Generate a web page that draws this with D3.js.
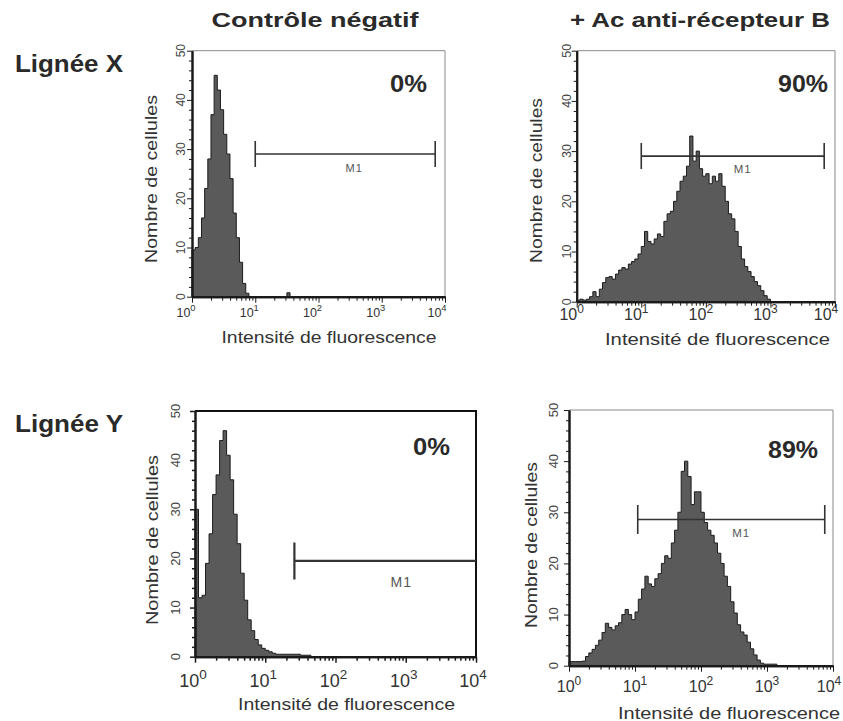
<!DOCTYPE html>
<html><head><meta charset="utf-8">
<script src="https://cdn.jsdelivr.net/npm/d3@7"></script>
<style>body{margin:0;background:#fff}svg{display:block}text{font-family:"Liberation Sans",Arial,Helvetica,sans-serif}</style>
</head><body><svg id="c" width="843" height="721"></svg>
<script>
// ---------- data ----------
const columnTitles = ["Contrôle négatif", "+ Ac anti-récepteur B"];
const rowLabels = ["Lignée X", "Lignée Y"];
const xAxisTitle = "Intensité de fluorescence";
const yAxisTitle = "Nombre de cellules";
const xDomain = [1, 10000];
const yDomain = [0, 50];
const xTickExponents = [0, 1, 2, 3, 4];
const yTickValues = [0, 10, 20, 30, 40, 50];
const binsPerDecade = 20;
const percentLabels = ["0%", "90%", "0%", "89%"];
const markerLabel = "M1";
// marker: [start intensity, end intensity, height in cells]
const markerXControl = [10, 7000, 29];
const markerXAnti = [10, 6800, 29];
const markerYControl = [26, 10000, 19.5];
const markerYAnti = [11, 7500, 28.6];
// cell counts per channel (20 channels per decade, 10^0 .. 10^4)
const countsXControl = [9.5,10,12,16,22,28,37,45,42,38, 33,29,24,17,12,7,2.7,0.7,0,0,
  0,0,0,0,0,0,0,0,0,0, 0.8,0,0,0,0,0,0,0,0,0,
  0,0,0,0,0,0,0,0,0,0, 0,0,0,0,0,0,0,0,0,0,
  0,0,0,0,0,0,0,0,0,0, 0,0,0,0,0,0,0,0,0,0];
const countsXAnti = [0.3,0.5,0.3,0.5,1,2,1,2.5,3.8,4.8, 5,4.5,5.5,6.3,6.8,6.5,7.5,8,8.5,9.5,
  11,14,12,11.5,12.5,13.5,13,16,17.5,18, 20,22,24,25,27,33,28,30,26.5,25,
  25.5,23.5,25,24,25.5,23,20,17.5,16.5,14, 11,8.5,7,6,5,4,3.2,2.2,1.2,0.5,
  0,0,0,0,0,0,0,0,0,0, 0,0,0,0,0,0,0,0,0,0];
const countsYControl = [30,12,12.5,19,25,33,37,44,46,41, 36,29,23,17,11.5,7.5,5.3,3.5,2.4,1.7,
  1.3,1,0.7,0.5,0.5,0.5,0.5,0.5,0.5,0.5, 0.3,0.3,0.3,0,0,0,0,0,0,0,
  0,0,0,0,0,0,0,0,0,0, 0,0,0,0,0,0,0,0,0,0,
  0,0,0,0,0,0,0,0,0,0, 0,0,0,0,0,0,0,0,0,0];
const countsYAnti = [0.8,0.8,0.8,0.8,0.9,1.8,2.5,3.2,4,5, 6.5,8.3,7.5,7,7.8,8.4,10,11,10,9,
  10.5,13,15,17.5,16,15.5,17,18,20,21.5, 21,24,26.5,30,38,40,37,31.5,34,34,
  30,28,26.5,25.5,24,22,20,17.5,15.5,12.5, 10.3,8,6.6,6,4.6,3.3,2.1,1.1,0.5,0.3,
  0.3,0.3,0.3,0,0,0,0,0,0,0, 0,0,0,0,0,0,0,0,0,0];

// ---------- layout ----------
const panels = [
  {counts: countsXControl, pct: percentLabels[0], marker: markerXControl,
   x0:192, x1:445, yb:296.7, yt:50.7, frameC:"#8a8a8a", frameW:1, tickW:1,
   ylab:{x:185, fs:12}, xlab:{y:316.7, fs:12.5, off:-6, lastOff:-8},
   xtitle:{cx:329, y:343, len:215, fs:16}, ytitle:{x:157, cy:179, len:168, fs:16},
   pctPos:{x:427, y:92, len:37}, m1:{cap:13, lw:1.6, dx:9, dy:18.3, fs:11, capR:true}},
  {counts: countsXAnti, pct: percentLabels[1], marker: markerXAnti,
   x0:576.7, x1:835, yb:301.7, yt:50.7, frameC:"#8a8a8a", frameW:1, tickW:1,
   ylab:{x:571, fs:12.5}, xlab:{y:320, fs:16, off:-5, lastOff:-9},
   xtitle:{cx:717.5, y:345, len:225, fs:16.5}, ytitle:{x:542, cy:180.5, len:165, fs:16},
   pctPos:{x:828, y:91.7, len:50}, m1:{cap:13, lw:1.6, dx:10, dy:17.3, fs:11.5, capR:true}},
  {counts: countsYControl, pct: percentLabels[2], marker: markerYControl,
   x0:195, x1:476, yb:656.7, yt:411, frameC:"#111", frameW:2, tickW:1.5,
   ylab:{x:180, fs:13}, xlab:{y:686.7, fs:18, off:-2, lastOff:-3},
   xtitle:{cx:346.5, y:710, len:217, fs:16}, ytitle:{x:158, cy:540, len:170, fs:16.5},
   pctPos:{x:450, y:455, len:37}, m1:{cap:18.5, lw:2.2, dx:16, dy:26, fs:14, capR:false}},
  {counts: countsYAnti, pct: percentLabels[3], marker: markerYAnti,
   x0:569, x1:833, yb:665.7, yt:410, frameC:"#8a8a8a", frameW:1, tickW:1,
   ylab:{x:558, fs:13}, xlab:{y:691.7, fs:16, off:0, lastOff:-4},
   xtitle:{cx:729, y:719, len:222, fs:16.5}, ytitle:{x:537, cy:545, len:166, fs:16},
   pctPos:{x:818, y:458, len:50}, m1:{cap:14.5, lw:1.6, dx:10, dy:17.7, fs:11.5, capR:true}}
];

const svg = d3.select("#c");
const ink = "#2a2a2a";

// column titles & row labels
const colPos = [{cx:315, len:207}, {cx:700, len:260}];
columnTitles.forEach((t, i) => {
  svg.append("text").attr("x", colPos[i].cx).attr("y", 27).attr("text-anchor", "middle")
    .attr("font-size", 20).attr("font-weight", "bold").attr("fill", ink)
    .attr("textLength", colPos[i].len).attr("lengthAdjust", "spacingAndGlyphs").text(t);
});
const rowPos = [72, 432];
rowLabels.forEach((t, i) => {
  svg.append("text").attr("x", 15).attr("y", rowPos[i])
    .attr("font-size", 23).attr("font-weight", "bold").attr("fill", ink)
    .attr("textLength", 108).attr("lengthAdjust", "spacingAndGlyphs").text(t);
});

const minorX = [];
for (let k = 0; k < 4; k++) for (let d = 2; d <= 9; d++) minorX.push(d * Math.pow(10, k));
const majorX = xTickExponents.map(e => Math.pow(10, e));
const minorY = d3.range(0, 51, 2).filter(v => v % 10 !== 0);

panels.forEach(p => {
  const x = d3.scaleLog().domain(xDomain).range([p.x0, p.x1]);
  const y = d3.scaleLinear().domain(yDomain).range([p.yb, p.yt]);
  const g = svg.append("g");

  // frame (top & right)
  g.append("path").attr("d", `M${p.x0},${p.yt}H${p.x1}V${p.yb}`)
    .attr("fill", "none").attr("stroke", p.frameC).attr("stroke-width", p.frameW);

  // histogram
  const n = p.counts.length;
  const pts = p.counts.map((c, i) => ({v: Math.pow(10, i / binsPerDecade), c}));
  pts.push({v: Math.pow(10, n / binsPerDecade), c: p.counts[n - 1]});
  const area = d3.area().curve(d3.curveStepAfter)
    .x(d => x(d.v)).y0(y(0)).y1(d => y(d.c));
  g.append("path").datum(pts).attr("d", area)
    .attr("fill", "#5a5a5a").attr("stroke", "#1c1c1c").attr("stroke-width", 1)
    .attr("stroke-linejoin", "miter");

  // axes
  const yMaj = g.append("g").attr("transform", `translate(${p.x0},0)`)
    .call(d3.axisLeft(y).tickValues(yTickValues).tickSize(5).tickSizeOuter(0).tickFormat(""));
  const yMin = g.append("g").attr("transform", `translate(${p.x0},0)`)
    .call(d3.axisLeft(y).tickValues(minorY).tickSize(3).tickSizeOuter(0).tickFormat(""));
  const xMaj = g.append("g").attr("transform", `translate(0,${p.yb})`)
    .call(d3.axisBottom(x).tickValues(majorX).tickSize(6).tickSizeOuter(0).tickFormat(""));
  const xMin = g.append("g").attr("transform", `translate(0,${p.yb})`)
    .call(d3.axisBottom(x).tickValues(minorX).tickSize(4).tickSizeOuter(0).tickFormat(""));
  [yMaj, yMin, xMaj, xMin].forEach(a => {
    a.select(".domain").attr("stroke", "#1a1a1a").attr("stroke-width", 2);
    a.selectAll(".tick line").attr("stroke", "#1a1a1a").attr("stroke-width", p.tickW);
  });

  // y tick labels (rotated)
  yTickValues.forEach(v => {
    g.append("text").attr("transform", `translate(${p.ylab.x},${y(v)}) rotate(-90)`)
      .attr("text-anchor", "middle").attr("font-size", p.ylab.fs).attr("fill", "#444").text(v);
  });
  // x tick labels 10^k
  xTickExponents.forEach((e, i) => {
    const off = i === xTickExponents.length - 1 ? p.xlab.lastOff : p.xlab.off;
    const t = g.append("text").attr("x", x(Math.pow(10, e)) + off).attr("y", p.xlab.y)
      .attr("text-anchor", "middle").attr("font-size", p.xlab.fs).attr("fill", "#333");
    t.append("tspan").text("10");
    t.append("tspan").attr("dy", -p.xlab.fs * 0.45).attr("font-size", p.xlab.fs * 0.75).text(e);
  });

  // axis titles
  g.append("text").attr("x", p.xtitle.cx).attr("y", p.xtitle.y).attr("text-anchor", "middle")
    .attr("font-size", p.xtitle.fs).attr("fill", "#333")
    .attr("textLength", p.xtitle.len).attr("lengthAdjust", "spacingAndGlyphs").text(xAxisTitle);
  g.append("text").attr("transform", `translate(${p.ytitle.x},${p.ytitle.cy}) rotate(-90)`)
    .attr("text-anchor", "middle").attr("font-size", p.ytitle.fs).attr("fill", "#333")
    .attr("textLength", p.ytitle.len).attr("lengthAdjust", "spacingAndGlyphs").text(yAxisTitle);

  // percentage
  g.append("text").attr("x", p.pctPos.x).attr("y", p.pctPos.y).attr("text-anchor", "end")
    .attr("font-size", 24).attr("font-weight", "bold").attr("fill", ink)
    .attr("textLength", p.pctPos.len).attr("lengthAdjust", "spacingAndGlyphs").text(p.pct);

  // M1 marker
  const [ms, me, mh] = p.marker;
  const xs = x(ms), xe = x(me), ym = y(mh);
  let d = `M${xs},${ym}H${xe}M${xs},${ym - p.m1.cap}V${ym + p.m1.cap}`;
  if (p.m1.capR) d += `M${xe},${ym - p.m1.cap}V${ym + p.m1.cap}`;
  g.append("path").attr("d", d).attr("fill", "none").attr("stroke", "#333").attr("stroke-width", p.m1.lw);
  g.append("text").attr("x", (xs + xe) / 2 + p.m1.dx).attr("y", ym + p.m1.dy)
    .attr("text-anchor", "middle").attr("font-size", p.m1.fs).attr("fill", "#555")
    .attr("letter-spacing", 1).text(markerLabel);
});
</script></body></html>
